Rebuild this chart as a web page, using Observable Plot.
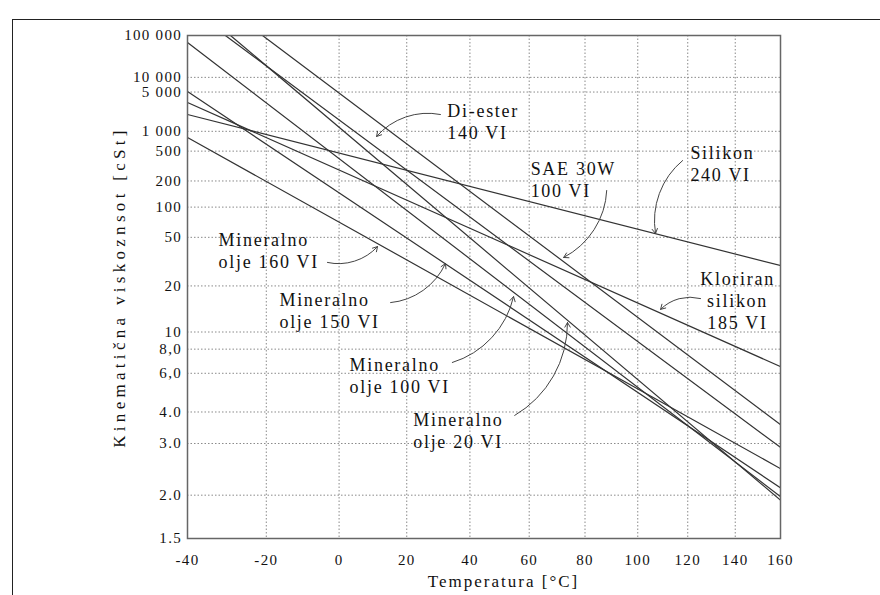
<!DOCTYPE html>
<html><head><meta charset="utf-8">
<script src="https://cdn.jsdelivr.net/npm/d3@7"></script>
<script src="https://cdn.jsdelivr.net/npm/@observablehq/plot@0.6"></script>
<style>
body{margin:0;background:#fff}
#wrap{position:relative;width:880px;height:595px;overflow:hidden}
#box{position:absolute;left:12px;top:19px;width:1000px;height:1000px;border-left:1.5px solid #222;border-top:1.5px solid #222;pointer-events:none}
g[aria-label="x-axis tick label"] text, g[aria-label="y-axis tick label"] text{letter-spacing:1.3px}
</style></head>
<body><div id="wrap"></div>
<script>
// ---- data ----
const seriesNames = ["Silikon 240 VI","Kloriran silikon 185 VI","SAE 30W 100 VI","Di-ester 140 VI","Mineralno olje 20 VI","Mineralno olje 100 VI","Mineralno olje 150 VI","Mineralno olje 160 VI"];
const tempStart = [-40, -40, -21.0, -30.6, -29.3, -40, -40, -40];
const viscStart = [1912, 3155, 100000, 100000, 100000, 65500, 5117, 800];
const tempEnd = [160, 160, 160, 160, 160, 160, 160, 160];
const viscEnd = [28.6, 6.48, 3.55, 2.90, 1.93, 1.98, 2.11, 2.44];

const noteText = ["Di-ester\n140 VI","SAE 30W\n100 VI","Silikon\n240 VI","Kloriran\nsilikon\n185 VI","Mineralno\nolje 160 VI","Mineralno\nolje 150 VI","Mineralno\nolje 100 VI","Mineralno\nolje 20 VI"];
const noteTemp = [32.7, 60.5, 121.1, 141.0, -32.3, -16.5, 3.0, 22.0];
const noteVisc = [3265, 378, 643, 26.5, 57.7, 18.5, 7.38, 4.05];

const arrowTemp1 = [30.5, 88.1, 117.9, 125.3, -3.3, 15.1, 34.3, 55.0];
const arrowVisc1 = [1912, 153.6, 368.7, 16.3, 30.3, 15.3, 6.8, 3.87];
const arrowTemp2 = [10.9, 72.2, 107.0, 109.0, 11.2, 32.1, 54.6, 73.6];
const arrowVisc2 = [828.5, 33.3, 54.3, 13.8, 41.3, 29.7, 16.8, 11.4];

const xTickValues = [-40, -20, 0, 20, 40, 60, 80, 100, 120, 140, 160];
const xTickLabels = ["-40","-20","0","20","40","60","80","100","120","140","160"];
const yTickValues = [1.5, 2, 3, 4, 6, 8, 10, 20, 50, 100, 200, 500, 1000, 5000, 10000, 100000];
const yTickLabels = ["1.5","2.0","3.0","4.0","6,0","8,0","10","20","50","100","200","500","1 000","5 000","10 000","100 000"];

// ---- chart coordinates (ASTM: log T[K], log log (v+0.7)) ----
const K = t => t + 273.15;
const A = v => Math.log10(Math.log10(v + 0.7));

const lineRows = [];
seriesNames.forEach((name, i) => {
  lineRows.push({name, x: K(tempStart[i]), y: A(viscStart[i])});
  lineRows.push({name, x: K(tempEnd[i]), y: A(viscEnd[i])});
});
const notes = noteText.map((text, i) => ({text, x: K(noteTemp[i]), y: A(noteVisc[i]), i}));
const arrows = arrowTemp1.map((t, i) => ({i, x1: K(t), y1: A(arrowVisc1[i]), x2: K(arrowTemp2[i]), y2: A(arrowVisc2[i])}));

const xT = xTickValues.map(K), yT = yTickValues.map(A);
const findLabel = (vals, labels) => d => { const j = vals.findIndex(v => Math.abs(v - d) < 1e-7); return j < 0 ? "" : labels[j]; };

const chart = Plot.plot({
  width: 880, height: 595,
  marginLeft: 187, marginRight: 100, marginTop: 35, marginBottom: 57,
  style: {fontFamily: "'Liberation Serif', 'Times New Roman', serif", fontSize: "15px", color: "#111", background: "#fff"},
  x: {type: "log", domain: [K(-40), K(160)], ticks: xT, tickFormat: findLabel(xT, xTickLabels), tickSize: 0, tickPadding: 16, label: null},
  y: {type: "linear", domain: [A(1.5), A(100000)], ticks: yT, tickFormat: findLabel(yT, yTickLabels), tickSize: 0, tickPadding: 5.5, label: null},
  marks: [
    Plot.gridX(xT, {stroke: "#8a8a8a", strokeOpacity: 1, strokeDasharray: "1.5,2"}),
    Plot.gridY(yT, {stroke: "#8a8a8a", strokeOpacity: 1, strokeDasharray: "1.5,2"}),
    Plot.line(lineRows, {x: "x", y: "y", z: "name", stroke: "#333", strokeWidth: 1.2, clip: true}),
    Plot.frame({stroke: "#666", strokeWidth: 1.5}),
    Plot.arrow(arrows.filter(d => d.i === 1), {x1: "x1", y1: "y1", x2: "x2", y2: "y2", bend: 30, headLength: 8, stroke: "#444", strokeWidth: 1}),
    Plot.arrow(arrows.filter(d => d.i !== 1), {x1: "x1", y1: "y1", x2: "x2", y2: "y2", bend: -30, headLength: 8, stroke: "#444", strokeWidth: 1}),
    Plot.text(notes.filter(d => d.i !== 3), {x: "x", y: "y", text: "text", textAnchor: "start", lineAnchor: "top", fontSize: 18, lineHeight: 1.22, fill: "#111"}),
    Plot.text(notes.filter(d => d.i === 3), {x: "x", y: "y", text: "text", textAnchor: "middle", lineAnchor: "top", fontSize: 18, lineHeight: 1.22, fill: "#111"}),
    Plot.text(["Temperatura [°C]"], {text: d => d, frameAnchor: "bottom", textAnchor: "middle", lineAnchor: "middle", dx: 19.5, dy: 43, fontSize: 17, fill: "#111"}),
    Plot.text(["Kinematična viskoznsot [cSt]"], {text: d => d, frameAnchor: "left", textAnchor: "middle", lineAnchor: "middle", rotate: -90, dx: -68, fontSize: 17, fill: "#111"})
  ]
});
// letter spacing for the text marks (notes, x label, y label), in mark order
const spacing = [1.7, 1.7, 2, 4.3];
chart.querySelectorAll('g[aria-label="text"]').forEach((g, k) => { g.style.letterSpacing = (spacing[k] ?? 0) + "px"; });

const wrap = document.getElementById("wrap");
wrap.appendChild(chart);
const box = document.createElement("div");
box.id = "box";
wrap.appendChild(box);
chart.style.position = "absolute"; chart.style.left = "0"; chart.style.top = "0";
</script>
</body></html>
